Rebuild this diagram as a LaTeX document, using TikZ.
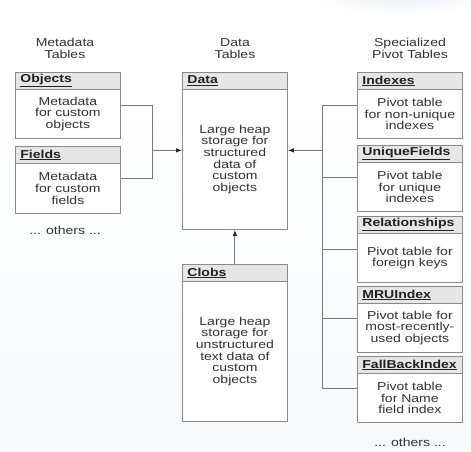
\documentclass[tikz,border=0pt]{standalone}
\usepackage{fontspec}
\setmainfont[FakeStretch=1.22]{Liberation Sans}
\usetikzlibrary{arrows.meta,calc}
\definecolor{bordc}{HTML}{8A8A8A}
\definecolor{hdrc}{HTML}{E6E6E6}
\definecolor{txtc}{HTML}{222222}
\definecolor{bodyc}{HTML}{333333}
\definecolor{linec}{HTML}{7A7A7A}
\definecolor{bgblue}{HTML}{EAF4FA}
\definecolor{bglow}{HTML}{F6FAFC}
\begin{document}
\begin{tikzpicture}[x=1pt,y=-1pt,
  font=\fontsize{11.5pt}{11.7pt}\selectfont,
  hdr/.style={draw=bordc, fill=hdrc, line width=0.8pt, minimum width=105pt,
    minimum height=17pt, text width=95pt, align=left, inner xsep=5pt,
    inner ysep=0pt, anchor=north west, font=\fontsize{11.5pt}{11.7pt}\selectfont\bfseries, text=txtc},
  body/.style={draw=bordc, fill=white, line width=0.8pt, minimum width=105pt,
    text width=95pt, align=center, inner xsep=5pt, inner ysep=0pt,
    anchor=north west, text=bodyc},
  lbl/.style={align=center, text=bodyc, inner sep=0pt},
  conn/.style={draw=linec, line width=0.9pt},
  arr/.style={conn, -{Latex[length=6pt,width=4.5pt,color=black!85]}},
]
\useasboundingbox (0,0) rectangle (471,451);
% faint background
\shade[top color=white, bottom color=bglow] (0,100) rectangle (471,451);
\fill[white] (0,0) rectangle (471,100);
\shade[inner color=bgblue, outer color=white] (400,0) ellipse (90pt and 14pt);

% column headings
\node[lbl] (hmeta) at (65,48.5) {Metadata\\Tables};
\node[lbl] (hdata) at (235,48.5) {Data\\Tables};
\node[lbl] (hpiv) at (410,48.5) {Specialized\\Pivot Tables};

% metadata tables
\node[hdr] (objH) at (15,72) {\underline{Objects}};
\node[body, minimum height=49pt] (objB) at (15,89) {Metadata\\for custom\\objects};
\node[hdr] (fldH) at (15,146) {\underline{Fields}};
\node[body, minimum height=50pt] (fldB) at (15,163) {Metadata\\for custom\\fields};
\node[lbl] (oth1) at (65,230) {... others ...};

% data tables
\node[hdr] (dataH) at (182,72) {\underline{Data}};
\node[body, minimum height=140pt] (dataB) at (182,89) {Large heap\\storage for\\structured\\data of\\custom\\objects};
\node[hdr] (clobH) at (182,264) {\underline{Clobs}};
\node[body, minimum height=140pt] (clobB) at (182,281) {Large heap\\storage for\\unstructured\\text data of\\custom\\objects};

% pivot tables
\node[hdr] (idxH) at (357,72) {\underline{Indexes}};
\node[body, minimum height=49pt] (idxB) at (357,89) {Pivot table\\for non-unique\\indexes};
\node[hdr] (uqH) at (357,145) {\underline{UniqueFields}};
\node[body, minimum height=49pt] (uqB) at (357,162) {Pivot table\\for unique\\indexes};
\node[hdr] (relH) at (357,216) {\underline{Relationships}};
\node[body, minimum height=49pt] (relB) at (357,233) {Pivot table for\\foreign keys};
\node[hdr] (mruH) at (357,286) {\underline{MRUIndex}};
\node[body, minimum height=49pt] (mruB) at (357,303) {Pivot table for\\most-recently-\\used objects};
\node[hdr] (fbH) at (357,356) {\underline{FallBackIndex}};
\node[body, minimum height=49pt] (fbB) at (357,373) {Pivot table\\for Name\\field index};
\node[lbl] (oth2) at (410,442) {... others ...};

% left connectors
\coordinate (lbus) at (152,0);
\coordinate (oc) at ($(objB.north east)+(0,16)$);
\coordinate (fc) at ($(fldB.north east)+(0,15)$);
\coordinate (dl) at ($(dataB.west)+(0,-9)$);
\draw[conn] (oc) -- (oc -| lbus) -- (fc -| lbus) -- (fc);
\draw[arr] (lbus |- dl) -- (dl);

% right connectors
\coordinate (rbus) at (322,0);
\coordinate (ic) at ($(idxB.north west)+(0,16)$);
\coordinate (uc) at ($(uqB.north west)+(0,15)$);
\coordinate (rc) at ($(relB.north west)+(0,16)$);
\coordinate (mc) at ($(mruB.north west)+(0,15)$);
\coordinate (bc) at ($(fbB.north west)+(0,15)$);
\coordinate (dr) at ($(dataB.east)+(0,-9)$);
\draw[conn] (ic) -- (ic -| rbus) -- (bc -| rbus) -- (bc);
\draw[conn] (uc -| rbus) -- (uc);
\draw[conn] (rc -| rbus) -- (rc);
\draw[conn] (mc -| rbus) -- (mc);
\draw[arr] (rbus |- dr) -- (dr);

% clobs to data
\draw[arr] (clobH.north) -- (dataB.south);
\end{tikzpicture}
\end{document}
